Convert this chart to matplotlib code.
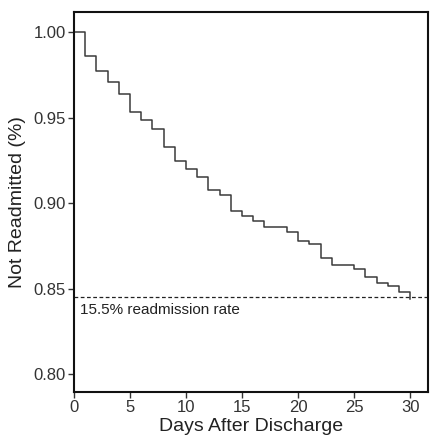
import matplotlib
matplotlib.use("Agg")
import matplotlib.pyplot as plt

days = list(range(0, 31))
surv = [1.000, 0.986, 0.977, 0.971, 0.9636, 0.953, 0.9485, 0.943, 0.9327, 0.9246,
        0.920, 0.915, 0.9076, 0.9047, 0.8955, 0.8926, 0.8897, 0.886, 0.886, 0.8832,
        0.8776, 0.8759, 0.868, 0.864, 0.864, 0.8617, 0.857, 0.853, 0.8515, 0.848, 0.8438]
ref_rate = 0.845
ref_label = "15.5% readmission rate"
xticks = [0, 5, 10, 15, 20, 25, 30]
yticks = [0.80, 0.85, 0.90, 0.95, 1.00]

plt.rcParams['font.family'] = ['Liberation Sans', 'DejaVu Sans']

fig = plt.figure(figsize=(4.4, 4.38), dpi=100)
ax = fig.add_axes([0.168, 0.105, 0.805, 0.8676])
ax.step(days, surv, where='post', color='#3a3a3a', lw=1.1)
ax.axhline(ref_rate, color='#222222', lw=0.9, ls=(0, (3, 2)))
ax.text(0.5, ref_rate - 0.0035, ref_label, fontsize=11, va='top', ha='left', color='#222222')

ax.set_xlim(0, 31.6)
ax.set_ylim(0.7895, 1.0117)
ax.set_xticks(xticks)
ax.set_yticks(yticks)
ax.set_yticklabels([f"{v:.2f}" for v in yticks])
ax.tick_params(labelsize=12, length=4, width=1, colors='#333333', labelcolor='#333333', pad=2)
for s in ax.spines.values():
    s.set_linewidth(1.5)
    s.set_color('#111111')
ax.set_xlabel("Days After Discharge", fontsize=14, color='#222222', labelpad=2)
ax.set_ylabel("Not Readmitted (%)", fontsize=14, color='#222222', labelpad=5)

fig.savefig("out.png", dpi=100)
